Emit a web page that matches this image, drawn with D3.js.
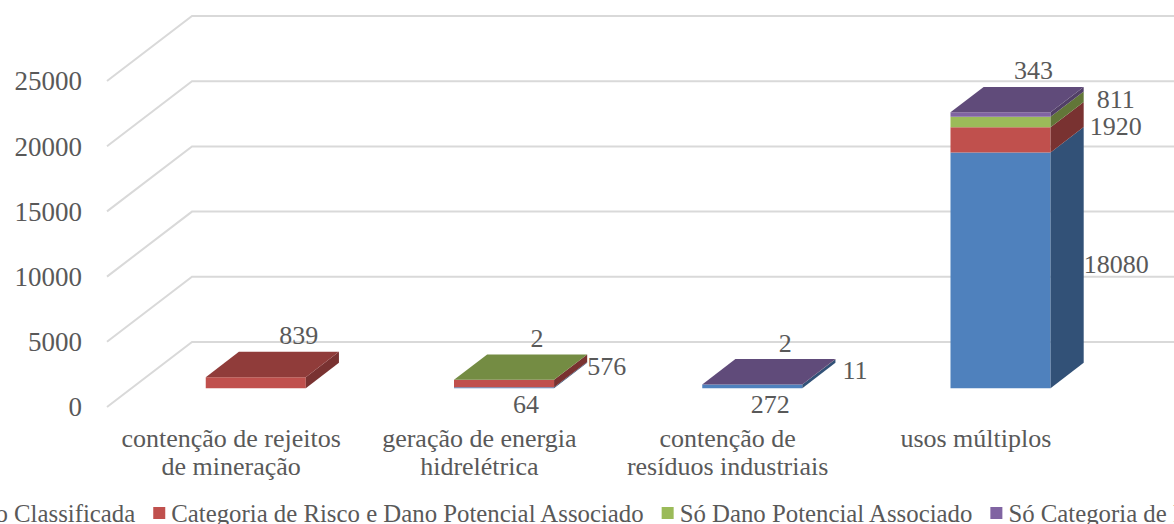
<!DOCTYPE html>
<html>
<head>
<meta charset="utf-8">
<script src="https://cdn.jsdelivr.net/npm/d3@7"></script>
<style>
  body { margin: 0; background: #fff; }
  svg { display: block; }
  text { font-family: "Liberation Serif", "Times New Roman", serif; fill: #595959; }
</style>
</head>
<body>
<svg id="chart" width="1174" height="524"></svg>
<script>
// categories (line breaks = how the axis labels wrap)
const categories = [
  "contenção de rejeitos\nde mineração",
  "geração de energia\nhidrelétrica",
  "contenção de\nresíduos industriais",
  "usos múltiplos"
];
const seriesNames = [
  "Não Classificada",
  "Categoria de Risco e Dano Potencial Associado",
  "Só Dano Potencial Associado",
  "Só Categoria de Risco"
];
const naoClassificada = [0, 64, 272, 18080];
const riscoEDano = [839, 576, 11, 1920];
const soDano = [0, 2, 0, 811];
const soRisco = [0, 0, 2, 343];
const yTicks = [0, 5000, 10000, 15000, 20000, 25000];

const seriesColors = ["#4F81BD", "#C0504D", "#9BBB59", "#8064A2"];

const W = 1174, H = 524;
const svg = d3.select("#chart");

// 3d box: front plane at depth 0, back wall at depth 1
const DX = 85, DY = -65;
const d0 = 0.29, d1 = 0.68;   // bar depth slot

const y = d3.scaleLinear().domain([0, 25000]).range([407, 81]);
const x = d3.scaleBand().domain(categories).range([107, 1100])
  .paddingInner(0.597).paddingOuter(0.2985);

const shade = (c, k) => { const r = d3.rgb(c); return d3.rgb(r.r * k, r.g * k, r.b * k).formatHex(); };

// gridlines: side wall diagonal + back wall
const grid = svg.append("g");
yTicks.forEach(t => {
  grid.append("path")
    .attr("d", `M${x.range()[0]},${y(t)}L${x.range()[0] + DX},${y(t) + DY}L${W + 20},${y(t) + DY}`)
    .attr("fill", "none").attr("stroke", "#D9D9D9").attr("stroke-width", 2);
});

// y axis labels
svg.append("g").selectAll("text").data(yTicks).join("text")
  .attr("x", 82).attr("y", d => y(d)).attr("dy", "0.35em")
  .attr("text-anchor", "end").attr("font-size", 27)
  .text(d => d);

// stack
const seriesVals = [naoClassificada, riscoEDano, soDano, soRisco];
const stacked = categories.map((c, i) => {
  let acc = 0;
  return seriesVals.map((vals, s) => {
    const seg = { cat: c, ci: i, s, v: vals[i], v0: acc, v1: acc + vals[i] };
    acc += vals[i];
    return seg;
  });
});

const bars = svg.append("g");
const pt = (px, py, d) => [px + DX * d, py + DY * d];
const poly = pts => "M" + pts.map(p => p.join(",")).join("L") + "Z";

stacked.forEach(segs => {
  const bx = x(segs[0].cat), bw = x.bandwidth();
  const g = bars.append("g");
  segs.filter(s => s.v > 0).forEach(s => {
    const c = seriesColors[s.s];
    // front
    g.append("path").attr("fill", c)
      .attr("d", poly([pt(bx, y(s.v0), d0), pt(bx + bw, y(s.v0), d0), pt(bx + bw, y(s.v1), d0), pt(bx, y(s.v1), d0)]));
    // right side
    g.append("path").attr("fill", shade(c, 0.63))
      .attr("d", poly([pt(bx + bw, y(s.v0), d0), pt(bx + bw, y(s.v0), d1), pt(bx + bw, y(s.v1), d1), pt(bx + bw, y(s.v1), d0)]));
  });
  const topSeg = segs.filter(s => s.v > 0).slice(-1)[0];
  const ty = y(topSeg.v1);
  g.append("path").attr("fill", shade(seriesColors[topSeg.s], 0.75))
    .attr("d", poly([pt(bx, ty, d0), pt(bx + bw, ty, d0), pt(bx + bw, ty, d1), pt(bx, ty, d1)]));
});

// data label placement: [where, dx, dy]
const labelPlace = {
  "0-1": ["top", 10, 0],
  "1-0": ["below", 0, 0], "1-1": ["right", 0, -6], "1-2": ["top", 0, 0],
  "2-0": ["below", -4, 0], "2-1": ["right", 7, -3], "2-3": ["top", 0, 0],
  "3-0": ["right", 0, 6], "3-1": ["right", 6, -2], "3-2": ["right", 13, -11], "3-3": ["top", 0, 0]
};

const labels = svg.append("g").attr("font-size", 26);
stacked.flat().filter(s => s.v > 0).forEach(s => {
  const [where, ox, oy] = labelPlace[s.ci + "-" + s.s] || ["right", 0, 0];
  const bx = x(s.cat), bw = x.bandwidth();
  const fx = bx + DX * d0, fyTop = y(s.v1) + DY * d0, fyBot = y(s.v0) + DY * d0;
  let lx, ly, anchor = "middle";
  if (where === "top") { lx = fx + bw / 2 + 33; ly = fyTop - 42; }
  else if (where === "below") { lx = fx + bw / 2 + 22; ly = fyBot + 16; }
  else { lx = fx + bw + DX * (d1 - d0); ly = (fyTop + fyBot) / 2 - 12; anchor = "start"; }
  labels.append("text").attr("x", lx + ox).attr("y", ly + oy).attr("dy", "0.35em")
    .attr("text-anchor", anchor).text(s.v);
});

// category labels
const catG = svg.append("g").attr("font-size", 26).attr("text-anchor", "middle");
categories.forEach(c => {
  const lines = c.split("\n");
  const t = catG.append("text").attr("x", x(c) + x.bandwidth() / 2);
  lines.forEach((l, i) => {
    t.append("tspan").attr("x", x(c) + x.bandwidth() / 2)
      .attr("y", 447 + i * 28).text(l);
  });
});

// legend (centred, wider than the chart)
const leg = svg.append("g").attr("font-size", 24.8);
const items = seriesNames.map((n, i) => {
  const g = leg.append("g");
  g.append("rect").attr("width", 12).attr("height", 12).attr("y", -6).attr("fill", seriesColors[i]);
  const t = g.append("text").attr("x", 18).attr("dy", "0.35em").text(n);
  return { g, w: 18 + t.node().getComputedTextLength() };
});
const gap = 18;
const total = d3.sum(items, d => d.w) + gap * (items.length - 1);
let cx = W / 2 - total / 2 + 2;
items.forEach(it => { it.g.attr("transform", `translate(${cx},513)`); cx += it.w + gap; });
</script>
</body>
</html>
